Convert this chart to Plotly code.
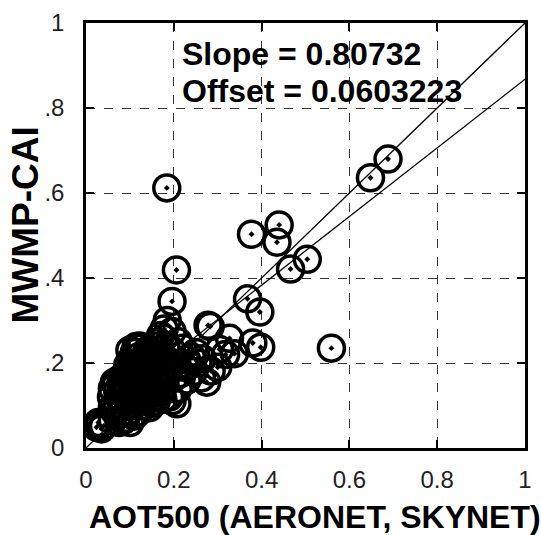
import plotly.graph_objects as go

# AOT500 (AERONET, SKYNET) vs MWMP-CAI
aot500 = [
    0.184, 0.688, 0.648, 0.559, 0.377, 0.440, 0.435, 0.504, 0.466, 0.368,
    0.396, 0.398, 0.380, 0.327, 0.338, 0.304, 0.278, 0.283, 0.206, 0.196,
    0.185, 0.178, 0.196, 0.177, 0.229, 0.240, 0.263, 0.285, 0.275, 0.300,
    0.318, 0.250, 0.220, 0.210, 0.196, 0.207, 0.190,
    0.024, 0.030, 0.035, 0.028, 0.040,
    0.060, 0.075, 0.085, 0.091, 0.100, 0.110, 0.095,
    0.069, 0.060, 0.075, 0.080, 0.090, 0.085, 0.070, 0.060,
    0.114, 0.122, 0.110, 0.105, 0.118,
    0.100, 0.110, 0.120, 0.130, 0.125, 0.140, 0.135, 0.150, 0.145, 0.155, 0.160, 0.150, 0.140, 0.130,
    0.105, 0.115, 0.125, 0.140, 0.130, 0.145, 0.120,
    0.165, 0.170, 0.175, 0.180, 0.165, 0.170, 0.180, 0.185, 0.190, 0.200, 0.205, 0.210, 0.215,
    0.160, 0.175, 0.165, 0.170,
    0.090, 0.095, 0.100,
    0.225, 0.235, 0.245, 0.230, 0.255, 0.265,
    0.065, 0.072, 0.080, 0.088, 0.098, 0.108, 0.118, 0.128, 0.138, 0.148,
    0.112, 0.120, 0.128, 0.135, 0.142, 0.155, 0.160, 0.098, 0.106, 0.116,
    0.150, 0.160, 0.170, 0.182, 0.195, 0.058, 0.066, 0.078, 0.100, 0.125,
]
mwmp_cai = [
    0.612, 0.680, 0.636, 0.235, 0.503, 0.525, 0.484, 0.444, 0.421, 0.351,
    0.320, 0.237, 0.247, 0.258, 0.222, 0.232, 0.289, 0.286, 0.419, 0.345,
    0.300, 0.280, 0.274, 0.258, 0.208, 0.215, 0.165, 0.181, 0.155, 0.190,
    0.220, 0.225, 0.235, 0.250, 0.111, 0.104, 0.120,
    0.049, 0.055, 0.045, 0.060, 0.052,
    0.065, 0.060, 0.065, 0.070, 0.060, 0.075, 0.085,
    0.150, 0.140, 0.120, 0.150, 0.130, 0.110, 0.100, 0.095,
    0.239, 0.240, 0.225, 0.210, 0.200,
    0.180, 0.160, 0.150, 0.170, 0.190, 0.180, 0.140, 0.142, 0.160, 0.175, 0.200, 0.220, 0.230, 0.210,
    0.140, 0.120, 0.110, 0.120, 0.100, 0.095, 0.085,
    0.150, 0.170, 0.190, 0.210, 0.230, 0.130, 0.150, 0.180, 0.200, 0.165, 0.190, 0.140, 0.175,
    0.110, 0.115, 0.250, 0.265,
    0.160, 0.195, 0.230,
    0.190, 0.195, 0.180, 0.160, 0.200, 0.210,
    0.155, 0.135, 0.165, 0.145, 0.170, 0.195, 0.170, 0.155, 0.200, 0.125,
    0.180, 0.215, 0.130, 0.160, 0.205, 0.120, 0.185, 0.120, 0.100, 0.145,
    0.105, 0.240, 0.215, 0.240, 0.230, 0.120, 0.085, 0.080, 0.200, 0.235,
]

slope = 0.80732
offset = 0.0603223
line_x = [0.0, 1.0]
one_to_one = [0.0, 1.0]
fit_y = [slope * v + offset for v in line_x]

tick_vals = [0, 0.2, 0.4, 0.6, 0.8, 1]
x_tick_text = ["0", "0.2", "0.4", "0.6", "0.8", "1"]
y_tick_text = ["0", ".2", ".4", ".6", ".8", "1"]

fig = go.Figure()
fig.add_trace(go.Scatter(x=aot500, y=mwmp_cai, mode="markers",
                         marker=dict(symbol="circle-open-dot", size=26, color="black",
                                     line=dict(width=3.5, color="black")),
                         showlegend=False, hoverinfo="x+y"))
fig.add_trace(go.Scatter(x=line_x, y=one_to_one, mode="lines",
                         line=dict(color="black", width=1.3), showlegend=False))
fig.add_trace(go.Scatter(x=line_x, y=fit_y, mode="lines",
                         line=dict(color="black", width=1.3), showlegend=False))

axis_common = dict(
    range=[0, 1], tickvals=tick_vals, showgrid=True, gridcolor="#333",
    griddash="dash", gridwidth=1, zeroline=False, showline=True, linecolor="black",
    linewidth=2.5, mirror="allticks", ticks="inside", ticklen=8, tickwidth=2,
    tickcolor="black", tickfont=dict(family="Liberation Sans, Arial", size=24, color="#222"),
)

fig.update_layout(
    width=541, height=535,
    margin=dict(l=86, r=9, t=17, b=87),
    paper_bgcolor="white", plot_bgcolor="white",
    xaxis=dict(**axis_common, ticktext=x_tick_text, ticklabelstandoff=8),
    yaxis=dict(**axis_common, ticktext=y_tick_text, ticklabelstandoff=14),
    font=dict(family="Liberation Sans, Arial", color="black"),
)

bold = dict(family="Liberation Sans, Arial", size=32, color="black")
fig.add_annotation(text="<b>Slope = 0.80732</b>", xref="paper", yref="paper",
                   x=(182 - 86) / 446, y=0.927, xanchor="left", yanchor="middle",
                   showarrow=False, font=bold)
fig.add_annotation(text="<b>Offset = 0.0603223</b>", xref="paper", yref="paper",
                   x=(182 - 86) / 446, y=0.840, xanchor="left", yanchor="middle",
                   showarrow=False, font=bold)
fig.add_annotation(text="<b>AOT500 (AERONET, SKYNET)</b>", xref="paper", yref="paper",
                   x=0.521, y=-0.162, xanchor="center", yanchor="middle",
                   showarrow=False, font=bold)
fig.add_annotation(text="<b>MWMP-CAI</b>", xref="paper", yref="paper",
                   x=-0.137, y=0.5255, xanchor="center", yanchor="middle", textangle=-90,
                   showarrow=False, font=dict(family="Liberation Sans, Arial", size=37, color="black"))

fig.write_html("out.html")
